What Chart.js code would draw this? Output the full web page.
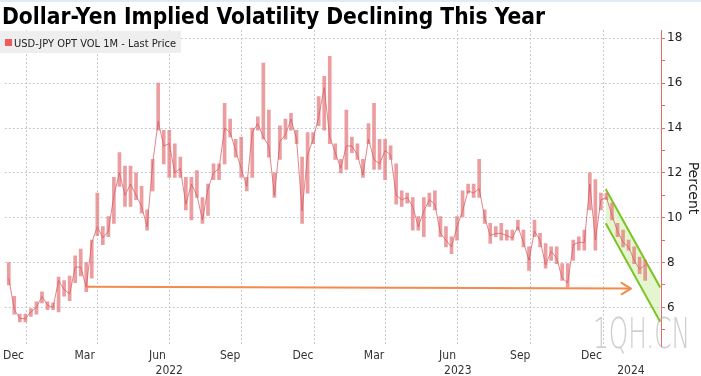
<!DOCTYPE html>
<html><head><meta charset="utf-8">
<script src="https://cdn.jsdelivr.net/npm/chart.js@4.4.1/dist/chart.umd.min.js"></script>
<style>
html,body{margin:0;padding:0;background:#fff;}
#wrap{position:relative;width:701px;height:376px;overflow:hidden;background:#fff;}
#topline{position:absolute;left:0;top:0;width:701px;height:2px;background:#e3eaf2;z-index:3;}
#title{position:absolute;left:2px;top:5px;font:bold 23px/23px 'DejaVu Sans',sans-serif;color:#000;white-space:nowrap;transform-origin:0 0;z-index:3;}
#legend{position:absolute;left:0;top:31px;width:181px;height:22px;background:#eeeeee;z-index:3;}
#legend .sw{position:absolute;left:5px;top:8px;width:7px;height:7px;background:#f25b5b;}
#legend .tx{position:absolute;left:14px;top:1px;font:10.5px/22px 'DejaVu Sans',sans-serif;color:#222;white-space:nowrap;transform-origin:0 0;}
#wm{position:absolute;left:593px;top:313px;font:200 42px/42px 'DejaVu Sans',sans-serif;color:rgba(165,165,165,0.55);white-space:nowrap;transform-origin:0 0;z-index:3;}
canvas{position:absolute;left:0;top:0;z-index:1;}
</style></head>
<body>
<div id="wrap">
  <div id="topline"></div>
  <canvas id="c" width="701" height="376"></canvas>
  <div id="title">Dollar-Yen Implied Volatility Declining This Year</div>
  <div id="legend"><div class="sw"></div><div class="tx">USD-JPY OPT VOL 1M - Last Price</div></div>
  <div id="wm">1QH.CN</div>
</div>
<script>
// ---- data (weekly high / low / close) ----
const weekEnd = [
 '2021-12-10','2021-12-17','2021-12-24','2021-12-31',
 '2022-01-07','2022-01-14','2022-01-21','2022-01-28','2022-02-04','2022-02-11','2022-02-18','2022-02-25',
 '2022-03-04','2022-03-11','2022-03-18','2022-03-25','2022-04-01','2022-04-08','2022-04-15','2022-04-22','2022-04-29',
 '2022-05-06','2022-05-13','2022-05-20','2022-05-27','2022-06-03','2022-06-10','2022-06-17','2022-06-24',
 '2022-07-01','2022-07-08','2022-07-15','2022-07-22','2022-07-29','2022-08-05','2022-08-12','2022-08-19','2022-08-26',
 '2022-09-02','2022-09-09','2022-09-16','2022-09-23','2022-09-30','2022-10-07','2022-10-14','2022-10-21','2022-10-28',
 '2022-11-04','2022-11-11','2022-11-18','2022-11-25','2022-12-02','2022-12-09','2022-12-16','2022-12-23','2022-12-30',
 '2023-01-06','2023-01-13','2023-01-20','2023-01-27','2023-02-03','2023-02-10','2023-02-17','2023-02-24',
 '2023-03-03','2023-03-10','2023-03-17','2023-03-24','2023-03-31','2023-04-07','2023-04-14','2023-04-21','2023-04-28',
 '2023-05-05','2023-05-12','2023-05-19','2023-05-26','2023-06-02','2023-06-09','2023-06-16','2023-06-23','2023-06-30',
 '2023-07-07','2023-07-14','2023-07-21','2023-07-28','2023-08-04','2023-08-11','2023-08-18','2023-08-25',
 '2023-09-01','2023-09-08','2023-09-15','2023-09-22','2023-09-29','2023-10-06','2023-10-13','2023-10-20','2023-10-27',
 '2023-11-03','2023-11-10','2023-11-17','2023-11-24','2023-12-01','2023-12-08','2023-12-15','2023-12-22','2023-12-29',
 '2024-01-05','2024-01-12','2024-01-19','2024-01-26','2024-02-02','2024-02-09','2024-02-16','2024-02-23'
];
const volHigh = [
 8.0,6.5,5.7,5.7,
 5.95,6.25,6.7,6.25,6.2,7.35,7.2,7.4,
 8.3,8.6,8.0,9.0,11.1,9.6,10.05,11.8,12.9,
 12.3,12.3,12.0,11.4,10.35,12.6,16.0,13.9,
 13.9,13.3,12.7,11.8,11.8,12.1,10.9,11.5,12.4,
 12.4,15.1,14.4,13.5,13.6,11.8,14.0,14.5,16.9,
 14.8,12.0,14.1,14.4,14.65,13.9,12.7,13.8,13.8,
 15.4,16.3,17.2,13.3,12.6,14.8,13.6,13.3,
 12.6,14.2,15.1,13.5,13.5,13.2,12.4,11.2,11.1,
 10.9,10.05,10.9,11.1,11.2,10.05,9.6,9.15,10.05,
 11.2,11.5,11.5,12.6,10.35,9.75,9.6,9.75,
 9.45,9.45,9.9,9.45,8.7,9.9,9.3,8.85,8.7,
 8.7,7.95,7.95,9.0,9.15,9.45,12.0,11.7,11.1,
 11.1,10.65,9.75,9.45,9.0,8.7,8.25,8.1
];
const volLow = [
 7.0,5.7,5.35,5.35,
 5.6,5.7,6.2,5.9,5.9,5.8,6.5,6.3,
 7.1,7.4,6.7,7.3,9.2,8.8,9.15,9.75,11.4,
 10.5,10.5,10.8,10.2,9.45,11.2,13.9,12.4,
 11.8,11.8,11.8,10.35,9.9,10.9,9.75,10.1,11.7,
 11.7,12.4,13.6,12.7,11.8,11.2,11.8,13.9,13.5,
 12.7,10.9,12.6,13.5,13.9,13.3,9.75,11.1,13.3,
 14.1,13.9,13.3,12.6,12.0,12.15,12.9,12.6,
 11.8,13.3,12.15,12.15,11.7,12.6,10.6,10.5,10.65,
 9.45,9.45,9.15,10.5,10.35,9.15,8.7,8.4,9.0,
 10.05,11.1,10.9,10.9,9.75,8.85,9.15,9.0,
 9.0,9.0,9.45,8.7,7.65,9.15,8.7,7.75,8.1,
 7.95,7.2,6.9,8.1,8.55,8.55,10.35,8.55,10.35,
 10.8,9.9,9.15,8.7,8.55,7.95,7.5,7.2
];
const volClose = [
 7.3,5.9,5.5,5.5,
 5.8,6.0,6.5,6.1,6.0,7.2,6.8,6.6,
 7.8,7.8,6.9,8.9,9.6,9.1,9.4,11.0,12.0,
 11.0,11.5,11.0,10.5,9.6,12.4,14.3,13.2,
 13.3,12.0,12.2,10.6,11.5,11.0,9.9,11.3,12.0,
 12.2,14.0,13.8,13.0,12.2,11.4,13.8,14.2,13.6,
 13.2,11.0,13.4,13.7,14.4,13.5,10.3,12.8,13.5,
 14.5,15.8,13.6,12.9,12.2,13.2,13.2,12.8,
 11.9,13.5,12.6,12.4,13.0,12.8,11.0,10.8,10.9,
 10.5,9.6,10.3,10.8,10.6,9.3,9.0,8.7,9.6,
 10.3,11.2,11.1,11.3,10.0,9.2,9.3,9.3,
 9.2,9.1,9.6,8.9,8.1,9.4,9.0,7.9,8.5,
 8.2,7.3,7.1,8.8,8.9,8.9,11.5,9.0,10.8,
 10.9,10.1,9.4,8.9,8.7,8.1,7.7,7.9
];
// axes
const axisDates = ['2021-12-05','2024-03-14'];
const yRange = [4.28, 18.37];
const yTickValues = [5,6,7,8,9,10,11,12,13,14,15,16,17,18];
const gridDates = ['2022-01-01','2022-04-01','2022-07-01','2022-10-01','2023-01-01','2023-04-01','2023-07-01','2023-10-01','2024-01-01'];
const monthTickDates = ['2021-12-16','2022-03-16','2022-06-16','2022-09-16','2022-12-17','2023-03-17','2023-06-18','2023-09-18','2023-12-17'];
const monthTickLabels = ['Dec','Mar','Jun','Sep','Dec','Mar','Jun','Sep','Dec'];
const yearTickDates = ['2022-07-01','2023-07-01','2024-02-05'];
const yearTickLabels = ['2022','2023','2024'];
// annotations
const arrowDates = ['2022-03-19','2024-02-05'];
const arrowValues = [6.92, 6.84];
const channelDates = ['2024-01-04','2024-03-13'];
const channelUpper = [11.28, 6.89];
const channelLower = [9.75, 5.36];

const day = s => (Date.UTC(+s.slice(0,4), +s.slice(5,7)-1, +s.slice(8,10)) - Date.UTC(2022,0,1)) / 864e5;
const RED = '#e46a6a';
const ORANGE = '#f58a4c';
const GREEN = '#7cc324';

const arrowHead = {
  id: 'arrowHead',
  afterDatasetsDraw(chart) {
    const pts = chart.getDatasetMeta(4).data;
    const a = pts[pts.length-2], b = pts[pts.length-1];
    const ang = Math.atan2(b.y - a.y, b.x - a.x);
    const ctx = chart.ctx;
    ctx.save();
    ctx.strokeStyle = ORANGE; ctx.lineWidth = 2; ctx.lineCap = 'round'; ctx.lineJoin = 'round';
    ctx.beginPath();
    ctx.moveTo(b.x - 11*Math.cos(ang-0.55), b.y - 11*Math.sin(ang-0.55));
    ctx.lineTo(b.x, b.y);
    ctx.lineTo(b.x - 11*Math.cos(ang+0.55), b.y - 11*Math.sin(ang+0.55));
    ctx.stroke();
    ctx.restore();
  }
};

const xMin = day(axisDates[0]), xMax = day(axisDates[1]);
const tickFont = {family: "'Liberation Sans Narrow','DejaVu Sans Condensed',sans-serif", size: 12};

new Chart(document.getElementById('c'), {
  type: 'bar',
  data: {
    datasets: [
      { type: 'bar', order: 2, data: weekEnd.map((w,i) => ({x: day(w), y: [volLow[i], volHigh[i]]})),
        backgroundColor: 'rgba(226,116,120,0.7)', borderWidth: 0, barThickness: 3, grouped: false },
      { type: 'line', order: 1, data: weekEnd.map((w,i) => ({x: day(w), y: volClose[i]})),
        borderColor: 'rgba(214,92,98,0.75)', borderWidth: 1, pointRadius: 0, tension: 0, fill: false },
      { type: 'line', order: 4, data: channelDates.map((d,i) => ({x: day(d), y: channelUpper[i]})),
        borderColor: GREEN, borderWidth: 2, pointRadius: 0, fill: false },
      { type: 'line', order: 5, data: channelDates.map((d,i) => ({x: day(d), y: channelLower[i]})),
        borderColor: GREEN, borderWidth: 2, pointRadius: 0, fill: '-1', backgroundColor: 'rgba(205,236,170,0.55)' },
      { type: 'line', order: 0, data: arrowDates.map((d,i) => ({x: day(d), y: arrowValues[i]})),
        borderColor: ORANGE, borderWidth: 2, pointRadius: 0, fill: false }
    ]
  },
  options: {
    responsive: false, animation: false, events: [],
    layout: { padding: { top: 30, left: 0, right: 0, bottom: 0 } },
    plugins: { legend: { display: false }, tooltip: { enabled: false } },
    scales: {
      x: {
        type: 'linear', position: 'bottom', min: xMin, max: xMax, weight: 0, offset: false,
        afterBuildTicks: s => { s.ticks = gridDates.map(d => ({value: day(d)})); },
        afterFit: s => { s.height = 0; },
        ticks: { display: false },
        grid: { color: '#c9c9c9', drawTicks: false, lineWidth: 1, offset: false },
        border: { display: false, dash: [2,2] }
      },
      xm: {
        type: 'linear', position: 'bottom', min: xMin, max: xMax, weight: 1, offset: false,
        afterBuildTicks: s => { s.ticks = monthTickDates.map(d => ({value: day(d)})); },
        afterFit: s => { s.height = 16; },
        ticks: { autoSkip: false, maxRotation: 0, minRotation: 0, padding: 3, color: '#333', font: tickFont,
                 callback: (v, i) => monthTickLabels[i] },
        grid: { display: false, drawTicks: false, offset: false }, border: { display: false }
      },
      xy: {
        type: 'linear', position: 'bottom', min: xMin, max: xMax, weight: 2, offset: false,
        afterBuildTicks: s => { s.ticks = yearTickDates.map(d => ({value: day(d)})); },
        afterFit: s => { s.height = 14; },
        ticks: { autoSkip: false, maxRotation: 0, minRotation: 0, padding: 2, color: '#333', font: tickFont,
                 callback: (v, i) => yearTickLabels[i] },
        grid: { display: false, drawTicks: false, offset: false }, border: { display: false }
      },
      y: {
        type: 'linear', position: 'right', min: yRange[0], max: yRange[1],
        afterBuildTicks: s => { s.ticks = yTickValues.map(v => ({value: v})); },
        afterFit: s => { s.width = 40; },
        ticks: { autoSkip: false, padding: 2, color: '#222', font: {family: "'DejaVu Sans',sans-serif", size: 12},
                 callback: v => (v % 2 === 0 ? String(v) : '') },
        grid: { color: c => (c.tick && c.tick.value % 2 === 0) ? '#c9c9c9' : 'rgba(0,0,0,0)',
                tickColor: RED, tickLength: 4, lineWidth: 1 },
        border: { color: RED, width: 1, dash: [2,2] },
        title: { display: true, text: 'Percent', color: '#222', font: {family: "'DejaVu Sans',sans-serif", size: 14},
                 padding: { top: 0, bottom: 2 } }
      }
    }
  },
  plugins: [arrowHead]
});

function fitWidth(id, sel, w) {
  const el = sel ? document.querySelector(sel) : document.getElementById(id);
  const r = el.getBoundingClientRect().width;
  if (r > 0) el.style.transform = 'scaleX(' + (w / r) + ')';
}
fitWidth('title', null, 543);
fitWidth(null, '#legend .tx', 162);
fitWidth('wm', null, 97);
</script>
</body></html>
